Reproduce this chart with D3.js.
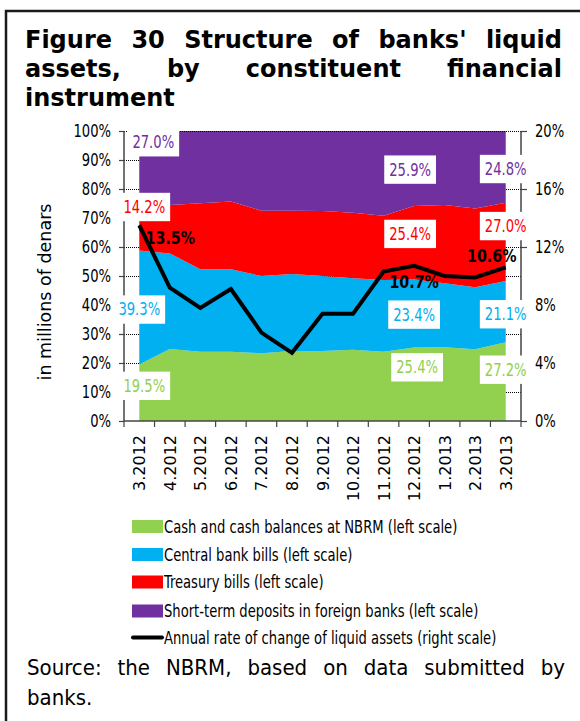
<!DOCTYPE html>
<html>
<head>
<meta charset="utf-8">
<script src="https://cdn.jsdelivr.net/npm/d3@7"></script>
<style>
  html, body { margin: 0; padding: 0; background: #fff; }
  svg { display: block; }
</style>
</head>
<body>
<svg id="chart" width="580" height="721"></svg>
<script>
// Months on the horizontal axis
const months = ["3.2012", "4.2012", "5.2012", "6.2012", "7.2012", "8.2012", "9.2012",
                "10.2012", "11.2012", "12.2012", "1.2013", "2.2013", "3.2013"];

// Shares in liquid assets, % (left scale)
const cash      = [19.5, 24.8, 23.9, 23.9, 23.4, 24.1, 24.1, 24.6, 23.9, 25.4, 25.4, 24.7, 27.2];
const cbBills   = [39.3, 33.0, 28.4, 28.4, 26.6, 26.6, 25.9, 24.6, 24.7, 23.4, 22.1, 21.4, 21.1];
const tBills    = [14.2, 16.7, 22.8, 23.4, 22.5, 21.8, 22.4, 22.6, 22.2, 25.4, 27.0, 27.2, 27.0];
const deposits  = [27.0, 25.5, 24.9, 24.3, 27.5, 27.5, 27.6, 28.2, 29.2, 25.9, 25.5, 26.7, 24.8];

// Annual rate of change of liquid assets, % (right scale)
const growth    = [13.5, 9.2, 7.8, 9.1, 6.1, 4.7, 7.4, 7.4, 10.3, 10.7, 10.0, 9.9, 10.6];

// Axis ticks
const leftTicks  = [0, 0.1, 0.2, 0.3, 0.4, 0.5, 0.6, 0.7, 0.8, 0.9, 1.0];
const rightTicks = [0, 4, 8, 12, 16, 20];

const seriesNames = [
  "Cash and cash balances at NBRM (left scale)",
  "Central bank bills (left scale)",
  "Treasury bills (left scale)",
  "Short-term deposits in foreign banks (left scale)"
];
const lineName = "Annual rate of change of liquid assets (right scale)";
const colors = ["#92D050", "#00B0F0", "#FF0000", "#7030A0"];

// Which months carry value labels, and label offsets from the segment middle
const labelledIdx = [0, 9, 12];
const areaLabelOffsets = [
  [{dx: 5, dy: -7}, {dx: 3, dy: -17}, {dx: 0, dy: -12}],
  [{dx: 0, dy: 2},  {dx: 0, dy: 1},   {dx: 0, dy: 2.5}],
  [{dx: 5, dy: -23},{dx: -4, dy: -9}, {dx: 0, dy: -16}],
  [{dx: 14, dy: -28},{dx: -4, dy: 1}, {dx: 0, dy: 2}]
];
const lineLabelOffsets = [{dx: 31, dy: 12}, {dx: 0, dy: 16}, {dx: -14, dy: -12}];

const svg = d3.select("#chart");
const condensed = "'DejaVu Sans Condensed', 'DejaVu Sans', sans-serif";
const SX = 0.86;   // extra horizontal squeeze for the narrow chart font

// text drawn in the narrow chart face: anchored at (x, y), squeezed horizontally
function narrowText(parent, x, y, txt, opts = {}) {
  const g = parent.append("g").attr("transform", `translate(${x},${y})`);
  const t = g.append("text").attr("transform", `scale(${opts.sx || SX},1)`)
    .attr("text-anchor", opts.anchor || "start")
    .attr("font-family", condensed)
    .attr("font-size", (opts.size || 17) + "px")
    .attr("font-weight", opts.weight || "normal")
    .attr("fill", opts.fill || "#000")
    .text(txt);
  return {g, t};
}

// ---------- frame ----------
svg.append("path").attr("d", "M6,721 V11 H580")
  .attr("fill", "none").attr("stroke", "#1a1a1a").attr("stroke-width", 2.5);

// ---------- justified text helper ----------
function justifiedLine(words, x0, x1, y, attrs, justify) {
  const g = svg.append("g");
  const nodes = words.map(w => {
    const t = g.append("text").attr("y", y).text(w);
    Object.entries(attrs).forEach(([k, v]) => t.attr(k, v));
    return t;
  });
  const widths = nodes.map(n => n.node().getComputedTextLength());
  const total = d3.sum(widths);
  const gap = justify && words.length > 1 ? (x1 - x0 - total) / (words.length - 1) : 6;
  let x = x0;
  nodes.forEach((n, i) => { n.attr("x", x); x += widths[i] + gap; });
}

const titleAttrs = {"font-family": "'DejaVu Sans', Verdana, sans-serif", "font-weight": "bold",
                    "font-size": "24px", "fill": "#000"};
justifiedLine(["Figure", "30", "Structure", "of", "banks'", "liquid"], 25, 562, 48, titleAttrs, true);
justifiedLine(["assets,", "by", "constituent", "financial"], 25, 562, 77, titleAttrs, true);
justifiedLine(["instrument"], 25, 562, 106, titleAttrs, false);

const srcAttrs = {"font-family": condensed, "font-size": "22px", "fill": "#000"};
justifiedLine("Source: the NBRM, based on data submitted by".split(" "), 27, 565, 675, srcAttrs, true);
justifiedLine(["banks."], 27, 565, 705, srcAttrs, false);

// ---------- scales ----------
const x = d3.scaleBand().domain(months).range([124, 521]);
const xc = m => x(m) + x.bandwidth() / 2;
const yL = d3.scaleLinear().domain([0, 1]).range([421, 131]);
const yR = d3.scaleLinear().domain([0, 20]).range([421, 131]);

const table = months.map((m, i) => ({month: m, s0: cash[i], s1: cbBills[i], s2: tBills[i], s3: deposits[i]}));
const stacked = d3.stack().keys(["s0", "s1", "s2", "s3"]).offset(d3.stackOffsetExpand)(table);

// ---------- gridlines (dotted, behind the areas) ----------
svg.append("g").selectAll("line").data(leftTicks.filter(t => t > 0)).join("line")
  .attr("x1", 124).attr("x2", 521)
  .attr("y1", d => yL(d) + 0.5).attr("y2", d => yL(d) + 0.5)
  .attr("stroke", "#000").attr("stroke-width", 1).attr("stroke-dasharray", "1,1");

// ---------- stacked areas ----------
const area = d3.area().x(d => xc(d.data.month)).y0(d => yL(d[0])).y1(d => yL(d[1]));
svg.append("g").selectAll("path").data(stacked).join("path")
  .attr("d", area).attr("fill", (d, i) => colors[i]);

// top gridline sits on the area edge
svg.append("line").attr("x1", 124).attr("x2", 521).attr("y1", yL(1) + 0.5).attr("y2", yL(1) + 0.5)
  .attr("stroke", "#000").attr("stroke-dasharray", "1,1");

// ---------- axes ----------
const axisColor = "#444";
const gAx = svg.append("g");
// left
gAx.append("line").attr("x1", 124).attr("x2", 124).attr("y1", yL(1)).attr("y2", yL(0))
  .attr("stroke", axisColor).attr("stroke-width", 1.5);
gAx.selectAll(".lt").data(leftTicks).join("line")
  .attr("x1", 119).attr("x2", 124).attr("y1", d => yL(d) + 0.5).attr("y2", d => yL(d) + 0.5)
  .attr("stroke", axisColor).attr("stroke-width", 1.2);
const pct0 = d3.format(".0%");
leftTicks.forEach(d => narrowText(gAx, 111, yL(d) + 6, pct0(d), {anchor: "end"}));
// right
gAx.append("line").attr("x1", 521).attr("x2", 521).attr("y1", yR(20)).attr("y2", yR(0))
  .attr("stroke", axisColor).attr("stroke-width", 1.5);
gAx.selectAll(".rt").data(rightTicks).join("line")
  .attr("x1", 521).attr("x2", 527).attr("y1", d => yR(d) + 0.5).attr("y2", d => yR(d) + 0.5)
  .attr("stroke", axisColor).attr("stroke-width", 1.2);
rightTicks.forEach(d => narrowText(gAx, 535, yR(d) + 6, d + "%"));
// bottom
gAx.append("line").attr("x1", 124).attr("x2", 521).attr("y1", 421).attr("y2", 421)
  .attr("stroke", axisColor).attr("stroke-width", 1.5);
const bounds = months.map(m => x(m)).concat([x.range()[1]]);
gAx.selectAll(".bt").data(bounds).join("line")
  .attr("x1", d => d).attr("x2", d => d).attr("y1", 421).attr("y2", 427)
  .attr("stroke", axisColor).attr("stroke-width", 1.2);
gAx.selectAll(".bl").data(months).join("text")
  .attr("transform", m => `translate(${xc(m) + 6},435) rotate(-90)`)
  .attr("text-anchor", "end")
  .attr("font-family", "'DejaVu Sans', Verdana, sans-serif").attr("font-size", "16px").attr("fill", "#000")
  .text(m => m);

// axis title
svg.append("text").attr("transform", "translate(51,292) rotate(-90)").attr("text-anchor", "middle")
  .attr("font-family", "'DejaVu Sans', Verdana, sans-serif").attr("font-size", "17.5px").attr("fill", "#000")
  .text("in millions of denars");

// ---------- growth line ----------
const line = d3.line().x((d, i) => xc(months[i])).y(d => yR(d));
svg.append("path").datum(growth).attr("d", line)
  .attr("fill", "none").attr("stroke", "#000").attr("stroke-width", 4).attr("stroke-linejoin", "miter");

// ---------- value labels ----------
const fmt = d3.format(".1f");
const gLab = svg.append("g");
function boxedLabel(cx, cy, txt, color) {
  const {g, t} = narrowText(gLab, cx, cy + 6, txt, {anchor: "middle", fill: color});
  const b = t.node().getBBox();
  const w = b.width * SX + 10;
  g.insert("rect", () => t.node())
    .attr("x", -w / 2).attr("y", b.y - 4).attr("width", w).attr("height", b.height + 8)
    .attr("fill", "#fff");
}
const rawSeries = [cash, cbBills, tBills, deposits];
stacked.forEach((layer, s) => {
  labelledIdx.forEach((idx, k) => {
    const d = layer[idx];
    const off = areaLabelOffsets[s][k];
    boxedLabel(xc(months[idx]) + off.dx, yL((d[0] + d[1]) / 2) + off.dy,
               fmt(rawSeries[s][idx]) + "%", colors[s]);
  });
});
labelledIdx.forEach((idx, k) => {
  const off = lineLabelOffsets[k];
  narrowText(gLab, xc(months[idx]) + off.dx, yR(growth[idx]) + off.dy + 6.5,
             fmt(growth[idx]) + "%", {anchor: "middle", weight: "bold", size: 18, sx: 0.88});
});

// ---------- legend ----------
const legendRows = [526, 554, 581.5, 610.5];
const gLeg = svg.append("g");
seriesNames.forEach((name, i) => {
  gLeg.append("rect").attr("x", 132).attr("y", legendRows[i] - 6).attr("width", 31).attr("height", 13)
    .attr("fill", colors[i]);
  narrowText(gLeg, 164, legendRows[i] + 6.5, name);
});
gLeg.append("line").attr("x1", 133).attr("x2", 162).attr("y1", 637.5).attr("y2", 637.5)
  .attr("stroke", "#000").attr("stroke-width", 4).attr("stroke-linecap", "round");
narrowText(gLeg, 164, 644, lineName);
</script>
</body>
</html>
